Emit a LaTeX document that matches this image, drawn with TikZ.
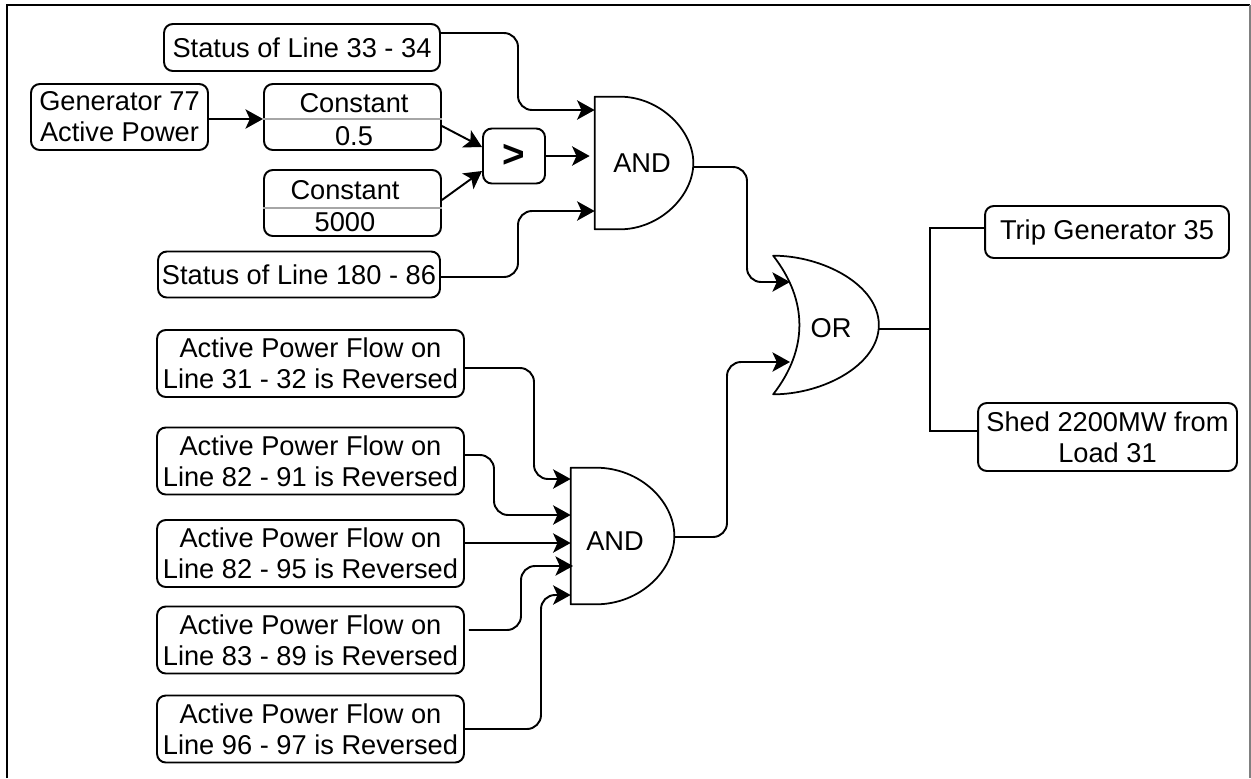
\documentclass[tikz,border=0pt]{standalone}
\usepackage{fontspec}
\setmainfont{Liberation Sans}
\usetikzlibrary{arrows.meta}

\tikzset{
    block/.style={draw, line width=1.1pt, rounded corners=5pt, align=center, inner sep=0pt},
    gatelabel/.style={inner sep=0pt},
    wire/.style={line width=1.1pt, rounded corners=8pt, -{Stealth[length=10pt,width=11pt,inset=2.5pt]}},
    plainwire/.style={line width=1.1pt},
    gateline/.style={line width=1pt, line join=round},
}

\begin{document}
\begin{tikzpicture}[x=0.02cm, y=-0.02cm, font=\fontsize{15.5}{17.6}\selectfont]
    \useasboundingbox (0,0) rectangle (1251,778);
    \draw[line width=1.3pt] (7,778) -- (7,5) -- (1250,5);
    \draw[gray, line width=0.6pt] (1250,5) -- (1250,778);

    % boxes
    \node[block, minimum width=5.52cm, minimum height=0.94cm] (status33) at (302,47.5) {\raisebox{-1pt}{Status of Line 33 - 34}};
    \node[block, minimum width=5.64cm, minimum height=0.92cm] (status180) at (299,274.5) {Status of Line 180 - 86};
    \node[block, minimum width=3.54cm, minimum height=1.32cm] (gen77) at (119.5,117) {Generator 77\\Active Power};
    \node[block, minimum width=3.54cm, minimum height=1.32cm] (const1) at (352.5,117) {};
    \node[block, minimum width=3.54cm, minimum height=1.32cm] (const2) at (352.5,203) {};
    \node[block, minimum width=1.24cm, minimum height=1.1cm] (greater) at (514,156) {\raisebox{-1.5pt}{\fontsize{22}{24}\selectfont\bfseries >}};

    \node[gatelabel] (const1top) at (354,103) {Constant};
    \node[gatelabel] (const1val) at (354,136) {0.5};
    \node[gatelabel] (const2top) at (345,190) {Constant};
    \node[gatelabel] (const2val) at (345,222) {5000};
    \draw[gray!70, line width=0.8pt] (const1.west |- 0,119) -- (const1.east |- 0,119);
    \draw[gray!70, line width=0.8pt] (const2.west |- 0,208) -- (const2.east |- 0,208);

    \node[block, minimum width=6.14cm, minimum height=1.34cm] (flow1) at (310.5,363.5) {Active Power Flow on\\Line 31 - 32 is Reversed};
    \node[block, minimum width=6.14cm, minimum height=1.34cm] (flow2) at (310.5,461) {Active Power Flow on\\Line 82 - 91 is Reversed};
    \node[block, minimum width=6.14cm, minimum height=1.34cm] (flow3) at (310.5,553.5) {Active Power Flow on\\Line 82 - 95 is Reversed};
    \node[block, minimum width=6.14cm, minimum height=1.34cm] (flow4) at (310.5,640) {Active Power Flow on\\Line 83 - 89 is Reversed};
    \node[block, minimum width=6.14cm, minimum height=1.34cm] (flow5) at (310.5,729) {Active Power Flow on\\Line 96 - 97 is Reversed};

    \node[block, minimum width=4.88cm, minimum height=1.04cm] (trip) at (1107,232) {\raisebox{1pt}{Trip Generator 35}};
    \node[block, minimum width=5.18cm, minimum height=1.36cm] (shed) at (1107.5,437) {Shed 2200MW from\\Load 31};

    % gates
    \node[gatelabel, minimum width=1.96cm, minimum height=2.64cm] (and1) at (644,163) {};
    \node[gatelabel, minimum width=2.06cm, minimum height=2.72cm] (and2) at (622.5,536) {};
    \node[gatelabel, minimum width=2.1cm, minimum height=2.76cm] (or1) at (826,325) {};
    \node (and1text) at (642,163) {AND};
    \node (and2text) at (615,541) {AND};
    \node (or1text) at (831,328) {OR};

    \draw[gateline] (and1.south west) -- (and1.north west) -- ++(25,0)
        .. controls +(40,0) and (and1.east |- 0,130) .. (and1.east)
        .. controls (and1.east |- 0,196) and +(40,0) .. ([xshift=0.5cm]and1.south west) -- cycle;
    \draw[gateline] (and2.south west) -- (and2.north west) -- ++(25,0)
        .. controls +(45,0) and (and2.east |- 0,502) .. (and2.east)
        .. controls (and2.east |- 0,570) and +(45,0) .. ([xshift=0.5cm]and2.south west) -- cycle;
    \draw[gateline] (or1.north west) .. controls +(50,0) and (or1.east |- 0,285) .. (or1.east)
        .. controls (or1.east |- 0,365) and +(50,0) .. (or1.south west)
        .. controls +(35,-45) and +(35,45) .. cycle;

    % connectors
    \draw[wire] (status33.east |- 0,33) -| (518,110) -- (and1.west |- 0,110);
    \draw[wire] (status180.east |- 0,277) -| (518,211) -- (and1.west |- 0,211);
    \draw[wire] (gen77.east |- 0,119) -- (const1.west |- 0,119);
    \draw[wire, rounded corners=0pt] (const1.east |- 0,126) -- (greater.west |- 0,147);
    \draw[wire, rounded corners=0pt] (const2.east |- 0,200) -- (greater.west |- 0,171);
    \draw[wire] (greater.east) -- ([xshift=-0.1cm]and1.west |- greater.east);
    \draw[wire] (and1.east |- 0,167) -| (747,282) -- (790,282);
    \draw[wire] (and2.east |- 0,537) -| (727,362) -- (790,362);

    \draw[wire] (flow1.east |- 0,368) -| (534,479) -- (and2.west |- 0,479);
    \draw[wire] (flow2.east |- 0,455) -| (494,515) -- (and2.west |- 0,515);
    \draw[wire] (flow3.east |- 0,543) -- (and2.west |- 0,543);
    \draw[wire] ([xshift=0.08cm]flow4.east |- 0,630) -| (521,566) -- (573,566);
    \draw[wire] (flow5.east) -| (541,595) -- (and2.west |- 0,595);

    \draw[plainwire] (or1.east |- 0,329) -- (930,329);
    \draw[plainwire] (930,329) |- (trip.west |- 0,228);
    \draw[plainwire] (930,329) |- (shed.west |- 0,431);
\end{tikzpicture}
\end{document}
